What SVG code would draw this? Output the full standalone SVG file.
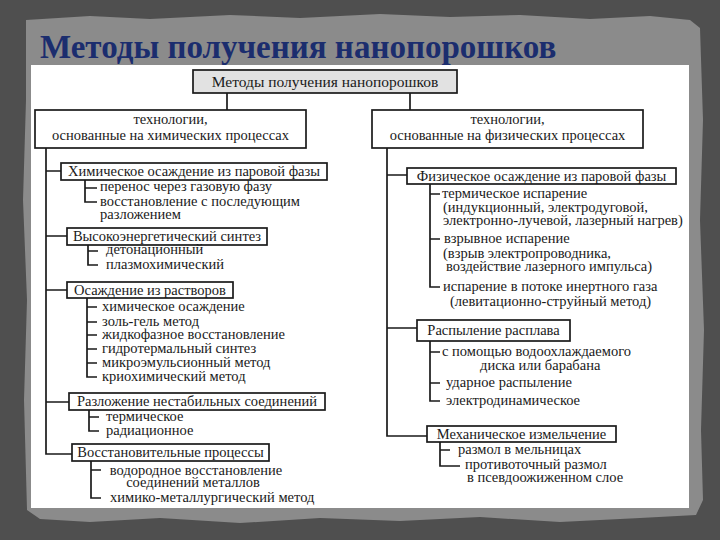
<svg xmlns="http://www.w3.org/2000/svg" width="720" height="540" viewBox="0 0 720 540">
<defs>
<style>
.bx{fill:#ffffff;stroke:#1a1a1a;stroke-width:1.7}
.top{fill:#e2e2e2;stroke:#1a1a1a;stroke-width:1.7}
</style>
</defs>
<rect x="0" y="0" width="720" height="540" fill="#4f4f4f"/>
<path d="M26,20 L90,16 L150,19 L230,15 L300,18 L380,14 L450,17 L520,15 L590,19 L650,16 L690,20 L700,28 L703,120 L700,220 L704,330 L701,430 L703,500 L696,515 L640,518 L560,522 L480,517 L400,521 L320,518 L240,523 L160,518 L90,522 L40,519 L27,510 L24,400 L27,300 L23,200 L26,100 Z" fill="#8b8b8b"/>
<text x="40" y="58" font-family="Times New Roman, Liberation Serif, serif" font-size="33" font-weight="bold" fill="#1b2d6e">Методы получения нанопорошков</text>
<rect x="31" y="65" width="658" height="443" fill="#ffffff"/>

<g id="connectors" fill="none" stroke="#1a1a1a" stroke-width="1.7">
<path d="M227,93 V110 M410,93 V110"/>
<path d="M46,148 V454 H72 M46,171 H61 M46,236 H67 M46,290 H67 M46,402 H69"/>
<path d="M85,180 V202 H97 M85,188 H97"/>
<path d="M88,245 V265 H98 M88,251 H98"/>
<path d="M87,298 V377 H97 M87,307 H97 M87,322 H97 M87,335 H97 M87,349 H97 M87,363 H97"/>
<path d="M89,410 V431 H99 M89,417 H99"/>
<path d="M91,461 V498 H101 M91,470 H101"/>
<path d="M387,148 V436 H427 M387,175 H407 M387,328 H417"/>
<path d="M430,184 V287 H440 M430,194 H440 M430,239 H440"/>
<path d="M430,341 V401 H440 M430,352 H440 M430,383 H440"/>
<path d="M440,442 V466 H460 M440,450 H450"/>
</g>

<g font-family="Times New Roman, Liberation Serif, serif" font-size="14.5" fill="#1a1a1a">
<g id="root"><rect class="top" x="193" y="70" width="264" height="23"/><text font-size="15.5" text-anchor="middle" x="325" y="86.5">Методы получения нанопорошков</text></g>

<g id="chem"><rect class="bx" x="35" y="110" width="271" height="38"/><text text-anchor="middle" x="170.5" y="123.5">технологии,</text><text text-anchor="middle" x="170.5" y="140">основанные на химических процессах</text></g>
<g id="phys"><rect class="bx" x="372" y="110" width="271" height="38"/><text text-anchor="middle" x="507.5" y="123.5">технологии,</text><text text-anchor="middle" x="507.5" y="140">основанные на физических процессах</text></g>

<g id="l1"><rect class="bx" x="61" y="163" width="266" height="17"/><text text-anchor="middle" x="194" y="176">Химическое осаждение из паровой фазы</text></g>
<g id="l1items"><text x="100" y="191">перенос через газовую фазу</text><text x="100" y="205.5">восстановление с последующим</text><text x="100" y="219">разложением</text></g>

<g id="l2"><rect class="bx" x="67" y="228" width="200" height="17"/><text text-anchor="middle" x="167" y="241">Высокоэнергетический синтез</text></g>
<g id="l2items"><text x="106" y="254">детонационный</text><text x="106" y="269">плазмохимический</text></g>

<g id="l3"><rect class="bx" x="67" y="282" width="166" height="16"/><text text-anchor="middle" x="150" y="294.5">Осаждение из растворов</text></g>
<g id="l3items"><text x="102" y="311">химическое осаждение</text><text x="102" y="326">золь-гель метод</text><text x="102" y="339">жидкофазное восстановление</text><text x="102" y="353">гидротермальный синтез</text><text x="102" y="367">микроэмульсионный метод</text><text x="102" y="381">криохимический метод</text></g>

<g id="l4"><rect class="bx" x="69" y="393" width="256" height="17"/><text text-anchor="middle" x="197" y="406">Разложение нестабильных соединений</text></g>
<g id="l4items"><text x="106" y="421">термическое</text><text x="106" y="435">радиационное</text></g>

<g id="l5"><rect class="bx" x="72" y="444" width="197" height="17"/><text text-anchor="middle" x="170.5" y="457">Восстановительные процессы</text></g>
<g id="l5items"><text text-anchor="middle" x="196" y="475">водородное восстановление</text><text text-anchor="middle" x="193" y="486.5">соединений металлов</text><text x="110" y="502">химико-металлургический метод</text></g>

<g id="r1"><rect class="bx" x="407" y="168" width="269" height="16"/><text text-anchor="middle" x="541.5" y="180.5">Физическое осаждение из паровой фазы</text></g>
<g id="r1items"><text x="442" y="198">термическое испарение</text><text x="443" y="212">(индукционный, электродуговой,</text><text x="443" y="225">электронно-лучевой, лазерный нагрев)</text><text x="444" y="243">взрывное испарение</text><text x="443" y="258">(взрыв электропроводника,</text><text x="446" y="271">воздействие лазерного импульса)</text><text x="443" y="291">испарение в потоке инертного газа</text><text x="450" y="306">(левитационно-струйный метод)</text></g>

<g id="r2"><rect class="bx" x="417" y="320" width="153" height="21"/><text text-anchor="middle" x="493.5" y="334.5">Распыление расплава</text></g>
<g id="r2items"><text x="442" y="356">с помощью водоохлаждаемого</text><text x="480" y="370">диска или барабана</text><text x="446" y="387">ударное распыление</text><text x="446" y="405">электродинамическое</text></g>

<g id="r3"><rect class="bx" x="427" y="426" width="189" height="16"/><text text-anchor="middle" x="521.5" y="438.5">Механическое измельчение</text></g>
<g id="r3items"><text x="458" y="454">размол в мельницах</text><text x="465" y="469">противоточный размол</text><text x="467" y="482">в псевдоожиженном слое</text></g>
</g>
</svg>
